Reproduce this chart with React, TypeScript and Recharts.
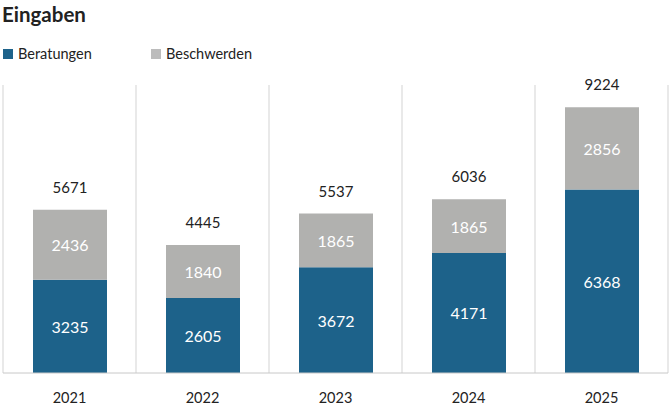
import React from "react";
import { BarChart, Bar, XAxis, YAxis, CartesianGrid, LabelList } from "recharts";

// Jahre und Werte der gestapelten Säulen
const years = ["2021", "2022", "2023", "2024", "2025"];
const beratungen = [3235, 2605, 3672, 4171, 6368];
const beschwerden = [2436, 1840, 1865, 1865, 2856];

const BLUE = "#1d628a";
const GREY = "#b1b1af";
const FONT = "Lato, 'Noto Sans', sans-serif";

const data = years.map((year, i) => ({
  year,
  beratungen: beratungen[i],
  beschwerden: beschwerden[i],
  total: beratungen[i] + beschwerden[i],
}));

const W = 670;
const H = 405;
const margin = { top: 85, right: 2, bottom: 2, left: 3 };

const TotalLabel = (props: any) => {
  const { x, y, width, index } = props;
  return (
    <text
      x={x + width / 2}
      y={y - 23}
      textAnchor="middle"
      dominantBaseline="central"
      fill="#222"
      fontSize={15}
      fontFamily={FONT}
    >
      {data[index].total}
    </text>
  );
};

const InnerLabel = (props: any) => {
  const { x, y, width, height, value } = props;
  return (
    <text
      x={x + width / 2}
      y={y + height / 2}
      textAnchor="middle"
      dominantBaseline="central"
      fill="#ffffff"
      fontSize={16}
      fontFamily={FONT}
    >
      {value}
    </text>
  );
};

const LegendItem = ({ color, label, left }: { color: string; label: string; left: number }) => (
  <div style={{ position: "absolute", left, top: 45, display: "flex", alignItems: "center" }}>
    <div style={{ width: 10, height: 10, background: color, marginRight: 5 }} />
    <span style={{ fontSize: 14.5, color: "#222", fontFamily: FONT }}>{label}</span>
  </div>
);

export default function App() {
  return (
    <div style={{ position: "absolute", left: 0, top: 0, width: W, height: H, background: "#fff" }}>
      <div
        style={{
          position: "absolute",
          left: 2,
          top: 2,
          fontSize: 20.5,
          fontWeight: 700,
          color: "#222",
          fontFamily: FONT,
        }}
      >
        Eingaben
      </div>
      <LegendItem color={BLUE} label="Beratungen" left={3} />
      <LegendItem color="#bcbcbc" label="Beschwerden" left={151} />
      <BarChart width={W} height={H} data={data} margin={margin} barSize={74}>
        <CartesianGrid
          horizontal={false}
          stroke="#d3d3d3"
          verticalCoordinatesGenerator={({ offset }: any) =>
            years.map((_, i) => offset.left + (i * offset.width) / years.length).concat(offset.left + offset.width)
          }
        />
        <XAxis
          dataKey="year"
          axisLine={{ stroke: "#c8c8c8" }}
          tickLine={false}
          tickMargin={14}
          tick={{ fill: "#222", fontSize: 14.5, fontFamily: FONT }}
        />
        <YAxis hide domain={[0, 10000]} />
        <Bar dataKey="beratungen" stackId="a" fill={BLUE} isAnimationActive={false}>
          <LabelList dataKey="beratungen" content={InnerLabel} />
        </Bar>
        <Bar dataKey="beschwerden" stackId="a" fill={GREY} isAnimationActive={false}>
          <LabelList dataKey="beschwerden" content={InnerLabel} />
          <LabelList dataKey="total" content={TotalLabel} />
        </Bar>
      </BarChart>
    </div>
  );
}
